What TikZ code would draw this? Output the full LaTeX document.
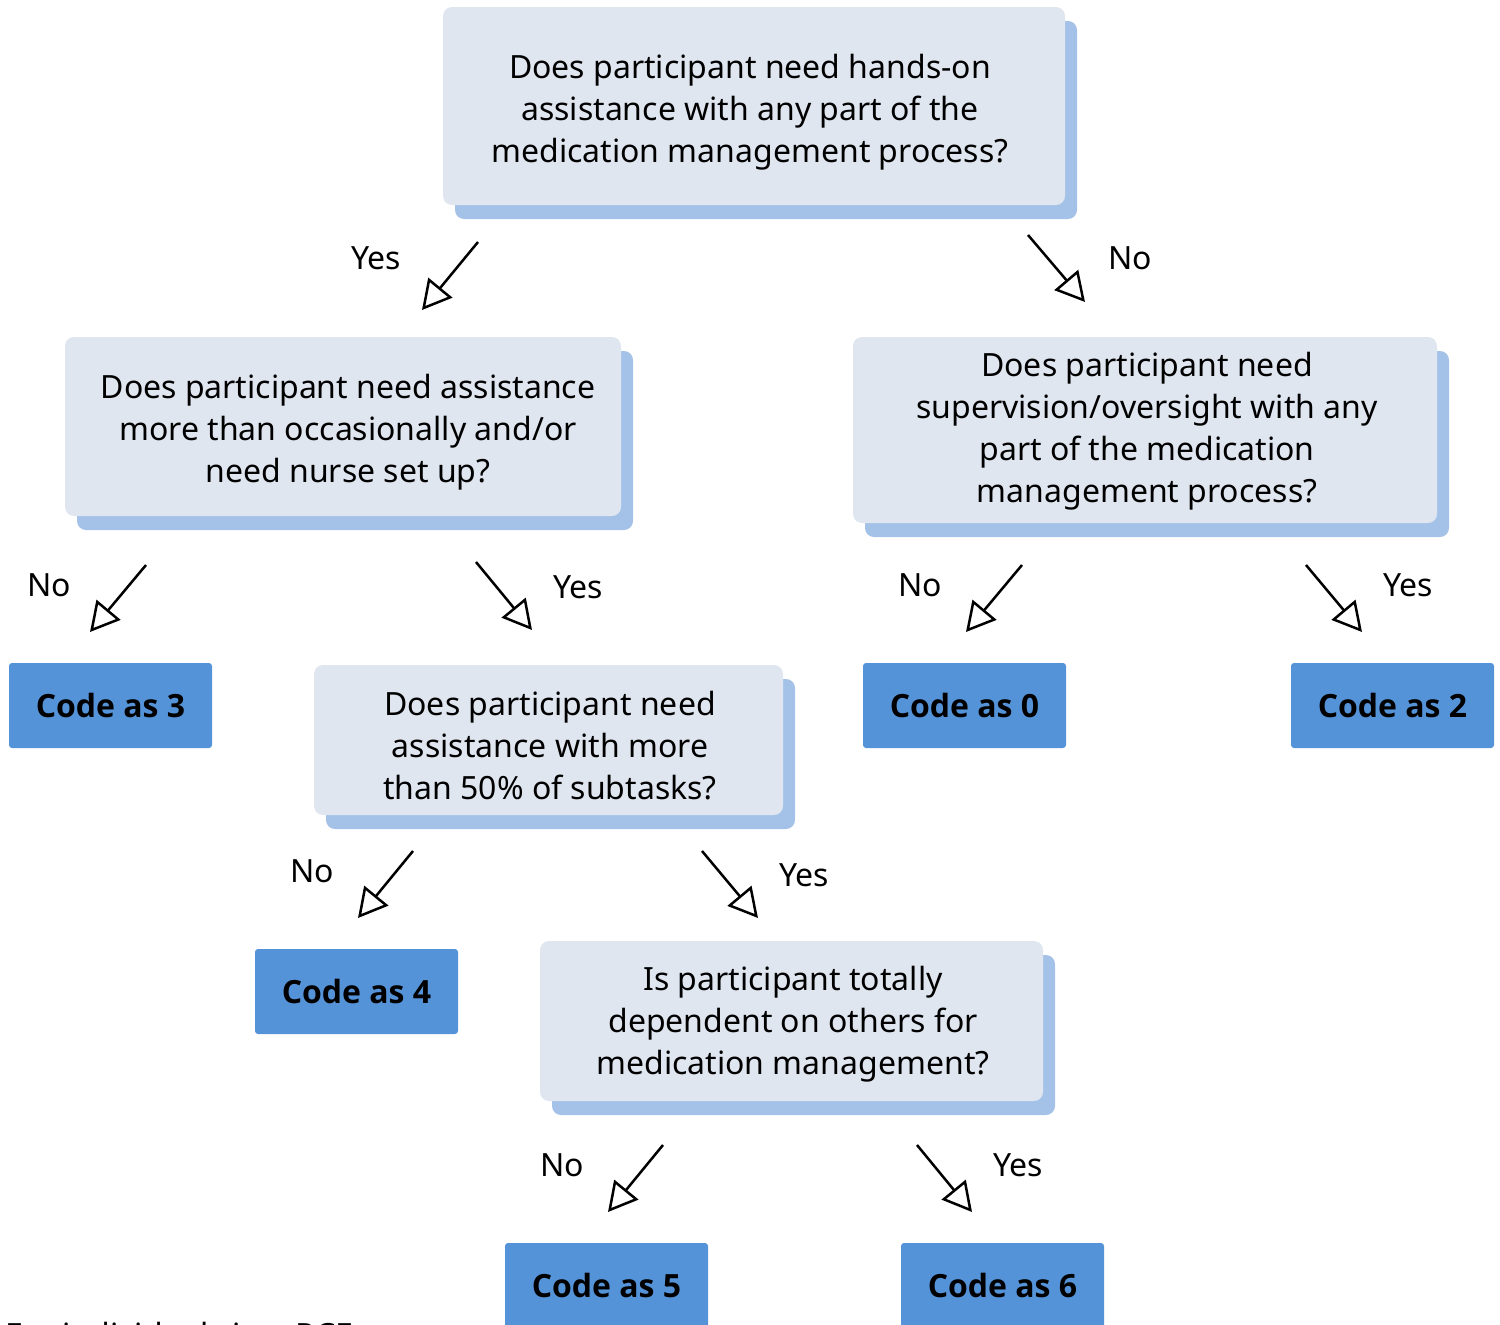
\documentclass[tikz,border=0pt]{standalone}
\usepackage{fontspec}
\setmainfont{Noto Sans}
\newfontfamily\codefont{Open Sans}
\usetikzlibrary{arrows.meta,shadows}
\definecolor{qfill}{HTML}{E0E6F0}
\definecolor{qshadow}{HTML}{A4C2E8}
\definecolor{cfill}{HTML}{5593D9}
\begin{document}
\begin{tikzpicture}[x=1pt,y=-1pt,
  every node/.style={font=\fontsize{32}{42}\selectfont},
  qbox/.style={fill=qfill, rounded corners=9pt, inner sep=0pt,
    drop shadow={shadow xshift=12pt,shadow yshift=-14pt,fill=qshadow,opacity=1}},
  qtext/.style={align=center, inner sep=0pt},
  cbox/.style={fill=cfill, rounded corners=3pt, inner sep=0pt,
    minimum width=203pt, minimum height=85pt, font=\codefont\fontsize{32}{40}\selectfont\bfseries},
  lab/.style={inner sep=0pt},
  flow/.style={line width=2.5pt, -{Triangle[open,length=29pt,width=31pt,line width=2.5pt]}}
]
\useasboundingbox (0,0) rectangle (1500,1325);
% question boxes
\node[qbox, minimum width=622pt, minimum height=198pt] (q1) at (754,106) {};
\node[qtext] (q1t) at (750,112)
  {Does participant need hands-on\\assistance with any part of the\\medication management process?};
\node[qbox, minimum width=556pt, minimum height=179pt] (q2) at (343,426.5) {};
\node[qtext] (q2t) at (348,432)
  {Does participant need assistance\\more than occasionally and/or\\need nurse set up?};
\node[qbox, minimum width=584pt, minimum height=186pt] (q3) at (1145,430) {};
\node[qtext] (q3t) at (1147,431)
  {Does participant need\\supervision/oversight with any\\part of the medication\\management process?};
\node[qbox, minimum width=469pt, minimum height=150pt] (q4) at (548.5,740) {};
\node[qtext] (q4t) at (550,746)
  {Does participant need\\assistance with more\\than 50\% of subtasks?};
\node[qbox, minimum width=503pt, minimum height=160pt] (q5) at (791.5,1021) {};
\node[qtext] (q5t) at (793,1024)
  {Is participant totally\\dependent on others for\\medication management?};
% code boxes
\node[cbox] (c3) at (110.5,705.5) {Code as 3};
\node[cbox] (c0) at (964.5,705.5) {Code as 0};
\node[cbox] (c2) at (1392.5,705.5) {Code as 2};
\node[cbox] (c4) at (356.5,991.5) {Code as 4};
\node[cbox] (c5) at (606.5,1285.5) {Code as 5};
\node[cbox] (c6) at (1002.5,1285.5) {Code as 6};
% arrow end points
\coordinate (a1s) at (478,242); \coordinate (a1e) at (422,310);
\coordinate (a2s) at (1028,235); \coordinate (a2e) at (1085,302);
\coordinate (a3s) at (146,565); \coordinate (a3e) at (90,632);
\coordinate (a4s) at (476,562); \coordinate (a4e) at (532,630);
\coordinate (a5s) at (1022,565); \coordinate (a5e) at (966,632);
\coordinate (a6s) at (1306,565); \coordinate (a6e) at (1362,632);
\coordinate (a7s) at (413,851); \coordinate (a7e) at (358,918);
\coordinate (a8s) at (702,851); \coordinate (a8e) at (758,918);
\coordinate (a9s) at (663,1145); \coordinate (a9e) at (608,1212);
\coordinate (a10s) at (917,1145); \coordinate (a10e) at (972,1212);
\foreach \i in {1,...,10} {\draw[flow] (a\i s) -- (a\i e);}
% labels
\node[lab] (l1) at (376,258) {Yes};
\node[lab] (l2) at (1130,258) {No};
\node[lab] (l3) at (49,585) {No};
\node[lab] (l4) at (578,587) {Yes};
\node[lab] (l5) at (920,585) {No};
\node[lab] (l6) at (1408,585) {Yes};
\node[lab] (l7) at (312,871) {No};
\node[lab] (l8) at (804,875) {Yes};
\node[lab] (l9) at (562,1165) {No};
\node[lab] (l10) at (1018,1165) {Yes};
% cut-off footnote
\node[lab, anchor=base west] (foot) at (5,1346) {For individuals in a RCF};
\end{tikzpicture}
\end{document}
